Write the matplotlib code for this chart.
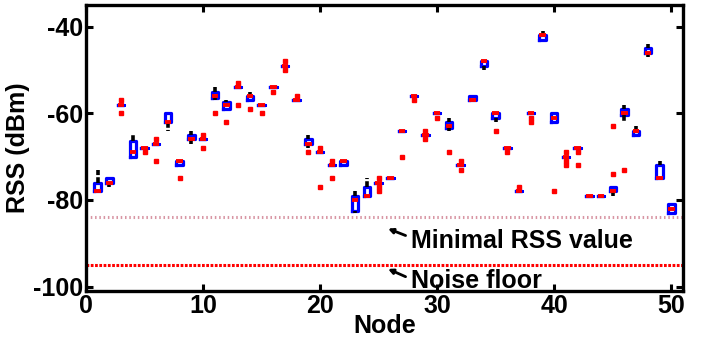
import matplotlib
matplotlib.use("Agg")
import matplotlib.pyplot as plt

plt.rcParams['font.family'] = ['Liberation Sans', 'DejaVu Sans']
plt.rcParams['font.weight'] = 'bold'

# ---------------- data (RSS in dBm per node) ----------------
nodes = list(range(1, 51))
q1 = [-78, -76, -58, -70, -68, -67, -62, -72, -66, -66,
      -56.5, -59, -54, -57, -58, -54, -49, -57, -67, -69,
      -72, -72, -82.5, -79, -76, -75, -64, -56, -65, -60,
      -63.5, -72, -57, -49, -61, -68, -78, -60, -43, -62,
      -70, -68, -79, -79, -78, -60.5, -65, -46, -75, -83]
med = [-78, -76, -58, -69, -68, -67, -62, -71, -66, -66,
       -56, -58, -54, -56, -58, -54, -49, -57, -67, -69,
       -72, -71, -80, -79, -76, -75, -64, -56, -65, -60,
       -63, -72, -57, -48, -60, -68, -78, -60, -42, -61,
       -70, -68, -79, -79, -78, -60, -64, -46, -75, -82]
q3 = [-76, -75, -58, -66.5, -68, -67, -60, -71, -65, -66,
      -55, -57.5, -54, -56, -58, -54, -49, -57, -66, -69,
      -72, -71, -79, -77, -76, -75, -64, -56, -65, -60,
      -62, -72, -56, -48, -60, -68, -78, -60, -42, -60,
      -70, -68, -79, -79, -77, -59, -64, -45, -72, -81]
whislo = [-78, -77, -58, -70, -68, -67, -64, -72, -67, -66,
          -57, -59, -54, -57, -58, -54, -49, -57, -68, -69,
          -72, -72, -83, -79, -76, -75, -64, -56, -65, -60,
          -64, -72, -57, -50, -62, -68, -78, -60, -43, -62,
          -70, -68, -79, -79, -79, -62, -65, -47, -75, -83]
whishi = [-73, -75, -58, -65, -68, -67, -60, -71, -64, -66,
          -54, -57, -54, -55, -58, -54, -49, -57, -65, -69,
          -72, -71, -78, -75, -76, -75, -64, -56, -65, -60,
          -61, -72, -56, -48, -60, -68, -78, -60, -41, -60,
          -70, -68, -79, -79, -77, -58, -63, -44, -71, -81]
outliers = [[], [], [-57, -60], [], [-69], [-66, -71], [], [-75], [], [-65, -68],
            [-60], [-62], [-53, -58], [-59], [-60], [-55], [-48, -50], [-56], [-69], [-68, -77],
            [-71, -75], [], [], [], [-75, -77, -78], [], [-70], [-57], [-64, -66], [-61],
            [-69], [-71, -73], [], [], [-64], [-69], [-77], [-61, -62], [], [-78],
            [-69, -71, -72], [-69, -72], [], [], [-63, -74], [-73], [], [], [], []]

min_rss_level = -84
noise_floor_level = -95
x_ticks = [0, 10, 20, 30, 40, 50]
y_ticks = [-100, -80, -60, -40]

# ---------------- figure ----------------
fig = plt.figure(figsize=(7.04, 3.45), dpi=100)
ax = fig.add_axes([86 / 704, 1 - 291 / 345, (683 - 86) / 704, (291 - 5) / 345])

stats = []
for i in range(len(nodes)):
    stats.append(dict(med=med[i], q1=q1[i], q3=q3[i],
                      whislo=whislo[i], whishi=whishi[i],
                      fliers=outliers[i]))

ax.bxp(stats, positions=nodes, widths=0.55, showcaps=False,
       boxprops=dict(color='#0000ff', linewidth=2.3),
       medianprops=dict(color='#ff0000', linewidth=2.8, solid_capstyle='butt'),
       whiskerprops=dict(color='black', linewidth=2.6, linestyle=(0, (1.6, 0.6))),
       flierprops=dict(marker='s', markersize=2.4, markerfacecolor='#ff0000',
                       markeredgecolor='#ff0000', linestyle='none'),
       manage_ticks=False)

ax.axhline(min_rss_level, color='#d896a4', linewidth=2.2, linestyle=(0, (0.5, 0.9)), zorder=1)
ax.axhline(noise_floor_level, color='#ff0000', linewidth=2.2, linestyle=(0, (0.9, 0.5)), zorder=1)

# annotations
ax.annotate('', xy=(25.8, min_rss_level - 2.6), xytext=(27.3, min_rss_level - 4.2),
            arrowprops=dict(arrowstyle='-|>', color='black', lw=2.0, mutation_scale=7,
                            shrinkA=0, shrinkB=0))
ax.text(27.8, min_rss_level - 5.4, 'Minimal RSS value', fontsize=18, fontweight='bold',
        ha='left', va='center')
ax.annotate('', xy=(25.8, noise_floor_level - 0.9), xytext=(27.3, noise_floor_level - 2.7),
            arrowprops=dict(arrowstyle='-|>', color='black', lw=2.0, mutation_scale=7,
                            shrinkA=0, shrinkB=0))
ax.text(27.8, noise_floor_level - 3.8, 'Noise floor', fontsize=18, fontweight='bold',
        ha='left', va='center')

ax.set_xlim(0, 51)
ax.set_ylim(-101, -35)
ax.set_xticks(x_ticks)
ax.set_yticks(y_ticks)
ax.set_xticklabels([str(t) for t in x_ticks], fontsize=18, fontweight='bold')
ax.set_yticklabels([str(t) for t in y_ticks], fontsize=18, fontweight='bold')
ax.tick_params(direction='in', length=5, width=2.2, top=True, right=True, pad=2)
for s in ax.spines.values():
    s.set_linewidth(2.4)

ax.set_xlabel('Node', fontsize=18, fontweight='bold', labelpad=-3)
ax.set_ylabel('RSS (dBm)', fontsize=18, fontweight='bold', labelpad=2)

fig.savefig('out.png', dpi=100)
